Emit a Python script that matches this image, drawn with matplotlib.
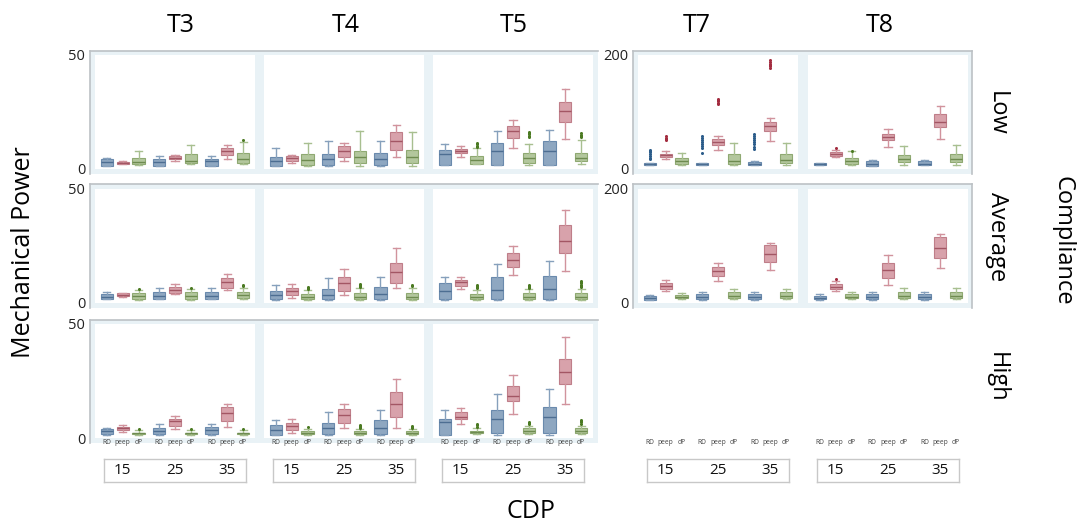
import matplotlib
matplotlib.use("Agg")
import matplotlib.pyplot as plt
from matplotlib.lines import Line2D
from matplotlib.patches import Rectangle

plt.rcParams['font.family'] = ['Open Sans', 'DejaVu Sans']

# --- Данные: (нижний ус, Q1, медиана, Q3, верхний ус), порядок RD/peep/dP x CDP 15/25/35 ---
cdp_levels = ['15', '25', '35']
methods = ['RD', 'peep', 'dP']
groups_left = ['T3', 'T4', 'T5']
groups_right = ['T7', 'T8']
compliance = ['Low', 'Average', 'High']

T3_low = [(1.3, 1.3, 3.1, 4.2, 4.7), (2.0, 2.3, 2.7, 3.1, 3.4), (1.6, 2.2, 3.1, 5.0, 7.8),
          (1.3, 1.3, 3.1, 4.2, 5.9), (3.3, 4.2, 4.9, 5.6, 6.3), (2.0, 2.7, 3.7, 6.5, 10.6),
          (1.3, 1.3, 3.3, 4.6, 5.9), (4.6, 6.0, 7.8, 9.2, 10.4), (2.0, 2.7, 4.2, 6.8, 11.8)]
T3_low_out = {8: [12.6]}
T4_low = [(1.3, 1.3, 3.4, 5.2, 9.0), (2.6, 3.4, 4.7, 5.6, 6.0), (1.2, 1.7, 3.9, 6.5, 11.6),
          (1.3, 1.7, 4.3, 6.5, 12.5), (3.4, 5.2, 7.8, 9.9, 11.2), (1.4, 2.6, 5.2, 7.8, 16.8),
          (1.3, 1.7, 4.3, 6.9, 12.5), (5.2, 8.2, 12.1, 16.4, 19.4), (1.4, 2.6, 5.2, 8.2, 16.4)]
T4_low_out = {}
T5_low = [(1.6, 1.6, 6.5, 8.2, 11.1), (5.3, 7.0, 8.0, 8.9, 10.3), (2.0, 2.4, 3.9, 5.6, 9.3),
          (1.6, 1.6, 7.8, 11.2, 16.8), (9.3, 13.5, 16.8, 18.8, 21.6), (1.8, 2.7, 5.0, 6.8, 11.1),
          (1.6, 1.6, 7.8, 12.1, 17.1), (13.2, 20.8, 25.3, 29.3, 35.0), (2.0, 3.4, 4.7, 7.2, 12.9)]
T5_low_out = {2: [9.8, 10.3, 10.8, 11.3], 5: [13.9, 14.5, 15.2, 15.8, 16.4], 8: [13.9, 14.5, 15.1, 15.6]}

T3_avg = [(1.7, 1.7, 2.6, 3.9, 4.7), (2.8, 3.0, 3.6, 4.3, 4.6), (1.5, 1.7, 3.0, 4.3, 5.6),
          (1.7, 1.7, 3.0, 4.7, 6.5), (3.8, 4.3, 5.6, 6.9, 8.2), (1.5, 1.7, 3.0, 4.7, 6.0),
          (1.7, 1.7, 3.0, 4.7, 6.5), (5.6, 6.5, 9.1, 10.8, 12.9), (1.8, 2.2, 3.4, 4.7, 6.5)]
T3_avg_out = {2: [6.2], 5: [6.6], 8: [7.4, 7.8]}
T4_avg = [(1.5, 1.7, 3.4, 5.2, 7.8), (2.2, 3.4, 5.2, 6.5, 8.2), (1.3, 1.7, 2.6, 3.9, 5.6),
          (1.5, 1.7, 3.4, 6.0, 10.8), (3.4, 5.2, 8.6, 11.6, 15.1), (1.3, 1.7, 2.6, 4.3, 6.5),
          (1.5, 1.7, 3.9, 6.9, 11.6), (6.5, 8.6, 13.8, 17.7, 24.1), (1.3, 1.7, 2.6, 4.3, 6.5)]
T4_avg_out = {2: [6.2, 6.6, 7.0], 5: [7.0, 7.4, 7.8, 8.2], 8: [7.4, 7.8]}
T5_avg = [(1.5, 1.7, 5.2, 8.6, 11.2), (6.0, 7.3, 9.1, 10.3, 11.6), (1.3, 1.7, 2.6, 3.9, 5.6),
          (1.5, 1.7, 5.6, 11.2, 17.2), (12.5, 16.0, 19.0, 22.0, 25.0), (1.3, 1.7, 2.6, 4.3, 6.0),
          (1.5, 1.7, 6.0, 12.0, 18.5), (14.2, 22.0, 27.0, 34.0, 41.0), (1.3, 1.7, 2.6, 4.3, 6.2)]
T5_avg_out = {2: [6.4, 6.9, 7.4, 7.8], 5: [6.6, 7.0, 7.5, 8.0], 8: [6.8, 7.4, 8.0, 8.6, 9.2, 9.8]}

T3_high = [(1.3, 1.7, 3.0, 4.0, 4.6), (2.7, 3.4, 4.2, 4.7, 5.5), (1.3, 1.7, 2.0, 2.3, 3.4),
           (1.5, 1.7, 3.2, 4.6, 6.0), (3.9, 5.3, 7.3, 8.5, 9.6), (1.3, 1.7, 2.0, 2.3, 3.4),
           (1.5, 1.7, 3.4, 5.0, 6.2), (5.0, 7.5, 11.1, 13.4, 15.0), (1.3, 1.7, 2.0, 2.3, 3.4)]
T3_high_out = {2: [4.0], 5: [4.0], 8: [4.0]}
T4_high = [(1.3, 1.3, 3.4, 5.6, 7.8), (2.2, 3.4, 5.2, 6.5, 8.2), (1.3, 1.7, 2.2, 3.0, 3.9),
           (1.3, 1.7, 4.3, 6.5, 11.2), (4.3, 6.5, 10.3, 12.9, 15.1), (1.3, 1.7, 2.2, 3.0, 3.9),
           (1.3, 1.7, 4.3, 7.8, 12.1), (4.3, 9.1, 15.1, 20.3, 25.9), (1.3, 1.7, 2.2, 3.0, 3.9)]
T4_high_out = {2: [4.7], 5: [4.3, 4.8, 5.2, 5.6], 8: [4.3, 4.8, 5.2]}
T5_high = [(1.3, 1.3, 7.0, 8.5, 12.1), (6.2, 8.2, 9.3, 11.2, 13.2), (1.8, 2.3, 2.7, 3.2, 4.6),
           (1.3, 2.0, 8.5, 12.1, 19.3), (10.6, 16.2, 18.4, 22.8, 27.5), (1.8, 2.2, 3.2, 4.2, 5.2),
           (1.3, 2.0, 9.1, 13.5, 21.4), (14.7, 23.6, 28.9, 34.6, 44.4), (1.8, 2.0, 3.2, 4.3, 5.4)]
T5_high_out = {2: [5.0, 5.5, 6.0], 5: [6.0, 6.5, 6.9], 8: [6.3, 6.9, 7.5, 8.1]}

T7_low = [(6.3, 6.3, 8.0, 9.8, 10.5), (18.4, 20.7, 24, 27, 31), (7.5, 8.6, 13.2, 19, 28.7),
          (6.3, 6.3, 8.0, 10, 11), (32.8, 42.5, 47, 52, 57.5), (7.5, 8.6, 14.4, 26, 46),
          (6.3, 6.3, 8.5, 12, 13.5), (50, 66, 75.3, 82.8, 89), (7.5, 11, 15.5, 27, 46)]
T7_low_out = {0: [17, 20, 23, 26, 29, 32, 34], 1: [51, 53, 55, 57.5],
              3: [27.6, 36.5, 40, 43.5, 47, 50.5, 54, 58.6],
              4: [114, 116.5, 119, 121, 123],
              6: [35, 39, 43, 47, 51, 55, 58, 61.5],
              7: [177.6, 180, 182.5, 185, 187.5, 190.5]}
T8_low = [(6.3, 6.3, 8.0, 10.3, 11), (20.2, 23.6, 26.5, 29.3, 33), (7.5, 8.6, 13.2, 19, 31),
          (5.7, 5.7, 9, 13.2, 15), (39, 51.2, 56.3, 61.5, 70.7), (7.5, 12, 16.7, 24.7, 40.8),
          (6.3, 6.3, 9, 14.3, 15.5), (53, 73, 82.8, 96.5, 110), (7.5, 13, 17.8, 26, 42.6)]
T8_low_out = {1: [36], 2: [31.5]}

T7_avg = [(5, 5, 8, 12, 14), (20.9, 24.3, 29.6, 34.7, 40), (7, 8.7, 11, 14, 17),
          (5, 7, 10, 15.6, 19), (38, 47, 55.6, 64, 71), (7, 8.7, 12, 19, 24),
          (5, 7, 10, 15.6, 19), (57.4, 71.3, 85.2, 100.9, 106), (7, 8.7, 12, 19, 24)]
T7_avg_out = {}
T8_avg = [(5, 7, 9, 12, 15.6), (20.9, 24.3, 28, 33, 38), (7, 8.7, 11, 15.6, 20),
          (5, 7, 10, 15.6, 19), (31.3, 43.5, 57.4, 69.6, 83.5), (7, 8.7, 12, 19, 26),
          (5, 7, 10, 15.6, 19), (60.9, 78.3, 95.7, 115, 121.7), (7, 8.7, 12, 19, 27)]
T8_avg_out = {1: [41.7]}

# --- Стили ---
COLORS = [
    dict(face='#8ea7c1', edge='#6a8aad', med='#4d6e92', whisk='#86a0bc', out='#2b5c8a'),
    dict(face='#d8a2ab', edge='#bf7e89', med='#a35664', whisk='#d1939d', out='#a32c3f'),
    dict(face='#b3c79d', edge='#8fa972', med='#6e8b50', whisk='#a8bf90', out='#4b7a22'),
]
BG = '#e9f2f6'
GRID_GRAY = '#bcc1c5'

W, H = 1084, 531
fig = plt.figure(figsize=(W / 100, H / 100), dpi=100)


def px_axes(x0, y0, x1, y1):
    return fig.add_axes([x0 / W, 1 - y1 / H, (x1 - x0) / W, (y1 - y0) / H])


def block(x0, y0, x1, y1, right=False):
    fig.add_artist(Rectangle((x0 / W, 1 - y1 / H), (x1 - x0) / W, (y1 - y0) / H,
                             transform=fig.transFigure, facecolor=BG, edgecolor='none', zorder=-2))
    segs = [([x0, x1], [y0, y0]), ([x0, x0], [y0, y1])]
    if right:
        segs.append(([x1, x1], [y0, y1]))
    for xs, ys in segs:
        fig.add_artist(Line2D([x / W for x in xs], [1 - y / H for y in ys],
                              transform=fig.transFigure, color=GRID_GRAY, lw=1.2, zorder=-1))


pos = [g * 3.3 + k for g in range(3) for k in range(3)]
XLIM = (-0.75, 9.35)


def draw_panel(ax, boxes, outs, ymax, show_y):
    stats = []
    for i, (lo, q1, med, q3, hi) in enumerate(boxes):
        stats.append(dict(whislo=lo, q1=q1, med=med, q3=q3, whishi=hi, fliers=outs.get(i, [])))
    art = ax.bxp(stats, positions=pos, widths=0.78, capwidths=0.45, patch_artist=True,
                 showfliers=True, manage_ticks=False)
    for i in range(9):
        c = COLORS[i % 3]
        art['boxes'][i].set(facecolor=c['face'], edgecolor=c['edge'], linewidth=0.8)
        art['medians'][i].set(color=c['med'], linewidth=1.0)
        for w in art['whiskers'][2 * i:2 * i + 2] + art['caps'][2 * i:2 * i + 2]:
            w.set(color=c['whisk'], linewidth=1.0)
        art['fliers'][i].set(marker='o', markersize=2.2, markerfacecolor=c['out'],
                             markeredgewidth=0, linestyle='none')
    ax.set_xlim(*XLIM)
    ax.set_ylim(0, ymax)
    for s in ax.spines.values():
        s.set_visible(False)
    ax.set_xticks([])
    ax.set_yticks([0, ymax])
    ax.tick_params(length=0, pad=7, labelsize=10.5, labelleft=show_y, labelcolor='#222222')


def method_labels(ax):
    ax.set_xticks(pos, methods * 3)
    ax.tick_params(axis='x', length=0, pad=1, labelsize=4.8, labelcolor='#444444')


left_cols = [(95, 255), (264, 424), (433, 593)]
right_cols = [(638, 798), (808, 968)]
rows_y = [(55, 169), (189, 303), (324, 438)]

# --- Фоны блоков ---
block(90, 51, 598, 174)
block(90, 184, 598, 308)
block(90, 320, 598, 443)
block(633, 51, 972, 174, right=True)
block(633, 184, 972, 308, right=True)

left_data = [
    [(T3_low, T3_low_out), (T4_low, T4_low_out), (T5_low, T5_low_out)],
    [(T3_avg, T3_avg_out), (T4_avg, T4_avg_out), (T5_avg, T5_avg_out)],
    [(T3_high, T3_high_out), (T4_high, T4_high_out), (T5_high, T5_high_out)],
]
right_data = [
    [(T7_low, T7_low_out), (T8_low, T8_low_out)],
    [(T7_avg, T7_avg_out), (T8_avg, T8_avg_out)],
]

for r, (y0, y1) in enumerate(rows_y):
    for c, (x0, x1) in enumerate(left_cols):
        ax = px_axes(x0, y0, x1, y1)
        boxes, outs = left_data[r][c]
        draw_panel(ax, boxes, outs, 50, c == 0)
        if r == 2:
            method_labels(ax)

for r, (y0, y1) in enumerate(rows_y):
    for c, (x0, x1) in enumerate(right_cols):
        ax = px_axes(x0, y0, x1, y1)
        if r < 2:
            boxes, outs = right_data[r][c]
            draw_panel(ax, boxes, outs, 200, c == 0)
        else:
            ax.patch.set_visible(False)
            for s in ax.spines.values():
                s.set_visible(False)
            ax.set_xlim(*XLIM)
            ax.set_yticks([])
            method_labels(ax)

# --- Подписи CDP в рамках ---
for (x0, x1) in left_cols + right_cols:
    inset = 9
    ax = px_axes(x0 + inset, 459, x1 - inset, 482)
    span = XLIM[1] - XLIM[0]
    ax.set_xlim(XLIM[0] + inset * span / (x1 - x0), XLIM[1] - inset * span / (x1 - x0))
    ax.set_ylim(0, 1)
    ax.set_xticks([])
    ax.set_yticks([])
    for s in ax.spines.values():
        s.set_color('#c8c8c8')
        s.set_linewidth(1.0)
    for g, lab in enumerate(cdp_levels):
        ax.text(pos[3 * g + 1], 0.5, lab, ha='center', va='center', fontsize=11, color='#111111')

# --- Заголовки и подписи осей ---
title_x = [181, 346, 514, 697, 880]
for name, x in zip(groups_left + groups_right, title_x):
    fig.text(x / W, 1 - 25 / H, name, ha='center', va='center', fontsize=18)

for name, y in zip(compliance, [113, 237, 377]):
    fig.text(997 / W, 1 - y / H, name, ha='center', va='center', rotation=270, fontsize=17)

fig.text(1062 / W, 1 - 241 / H, 'Compliance', ha='center', va='center', rotation=270, fontsize=17)
fig.text(24 / W, 1 - 252 / H, 'Mechanical Power', ha='center', va='center', rotation=90, fontsize=18)
fig.text(531 / W, 1 - 512 / H, 'CDP', ha='center', va='center', fontsize=18)

fig.savefig('out.png', dpi=100)
